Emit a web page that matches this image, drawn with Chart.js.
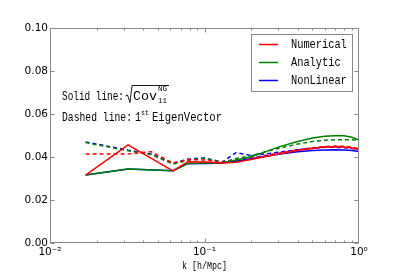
<!DOCTYPE html>
<html>
<head>
<meta charset="utf-8">
<script src="https://cdn.jsdelivr.net/npm/chart.js@4.4.0/dist/chart.umd.min.js"></script>
<style>
  html, body { margin: 0; background: #fff; }
  #wrap { width: 399px; height: 279px; }
</style>
</head>
<body>
<div id="wrap"><canvas id="chart" width="399" height="279"></canvas></div>
<script>
// k grids (h/Mpc)
const K_SOLID  = [0.017, 0.032, 0.0625, 0.078, 0.1, 0.13, 0.16, 0.2, 0.25, 0.3, 0.4, 0.5, 0.6, 0.7, 0.8, 0.9, 1.0]
const K_DASHED = [0.017, 0.032, 0.045, 0.0625, 0.078, 0.1, 0.13, 0.16, 0.2, 0.25, 0.3, 0.4, 0.5, 0.6, 0.7, 0.8, 0.9, 1.0]

// solid: sqrt(Cov_NG_11)
const NUM_SOLID = [0.0316, 0.0456, 0.0335, 0.0378, 0.0377, 0.0372, 0.0376, 0.0388, 0.0402, 0.0414, 0.0430, 0.0440, 0.0446, 0.0448, 0.0447, 0.0442, 0.0434]
const ANA_SOLID = [0.0316, 0.0344, 0.0336, 0.0370, 0.0372, 0.0373, 0.0386, 0.0401, 0.0425, 0.0446, 0.0472, 0.0488, 0.0496, 0.0499, 0.0499, 0.0492, 0.0479]
const NL_SOLID  = [0.0316, 0.0344, 0.0336, 0.0369, 0.0370, 0.0372, 0.0380, 0.0392, 0.0404, 0.0413, 0.0424, 0.0430, 0.0433, 0.0434, 0.0433, 0.0430, 0.0425]

// dashed: 1st eigenvector
const NUM_DASHED = [0.0414, 0.0414, 0.0425, 0.0372, 0.0388, 0.0386, 0.0375, 0.0385, 0.0395, 0.0408, 0.0418, 0.0433, 0.0443, 0.0449, 0.0451, 0.0450, 0.0446, 0.0438]
const ANA_DASHED = [0.0467, 0.0429, 0.0412, 0.0367, 0.0385, 0.0394, 0.0375, 0.0393, 0.0406, 0.0425, 0.0440, 0.0460, 0.0472, 0.0478, 0.0480, 0.0480, 0.0480, 0.0479]
const NL_DASHED  = [0.0470, 0.0432, 0.0414, 0.0370, 0.0390, 0.0396, 0.0376, 0.0420, 0.0407, 0.0415, 0.0422, 0.0434, 0.0441, 0.0445, 0.0445, 0.0443, 0.0440, 0.0435]

const Y_TICKS = [0, 0.02, 0.04, 0.06, 0.08, 0.10]
const X_MAJOR = [0.01, 0.1, 1]
const X_LABELS = ['10\u207B\u00B2', '10\u207B\u00B9', '10\u2070']
const LEGEND = ['Numerical', 'Analytic', 'NonLinear']
const COLORS = ['#ff0000', '#008000', '#0000ff']

const FRAME = '#888888'
const MONO = "'Liberation Mono', 'DejaVu Sans Mono', monospace"

function pts(ks, vs) {
  return ks.map((k, i) => ({ x: k, y: vs[i] }))
}

function lineSet(label, ks, vs, color, dashed) {
  return {
    label,
    data: pts(ks, vs),
    borderColor: color,
    backgroundColor: color,
    borderWidth: 1.5,
    borderDash: dashed ? [4, 3] : [],
    pointRadius: 0,
    tension: 0,
    fill: false
  }
}

// text squeezed/stretched to a given width
function fitText(ctx, str, x, y, font, width) {
  ctx.save()
  ctx.font = font
  const w = ctx.measureText(str).width
  ctx.translate(x, y)
  ctx.scale(width / w, 1)
  ctx.fillText(str, 0, 0)
  ctx.restore()
}

const decor = {
  id: 'decor',
  afterDatasetsDraw(chart) {
    const { ctx, chartArea: a, scales } = chart
    const L = Math.round(a.left) + 0.5, R = Math.round(a.right) - 0.5
    const T = Math.round(a.top) + 0.5, B = Math.round(a.bottom) - 0.5
    ctx.save()
    ctx.strokeStyle = FRAME
    ctx.lineWidth = 1
    ctx.setLineDash([])
    ctx.strokeRect(L, T, R - L, B - T)

    // inside ticks
    ctx.beginPath()
    Y_TICKS.forEach(v => {
      const y = Math.round(scales.y.getPixelForValue(v)) + 0.5
      ctx.moveTo(L, y); ctx.lineTo(L + 4, y)
      ctx.moveTo(R, y); ctx.lineTo(R - 4, y)
    })
    for (let d = 0.01; d < 1; d *= 10) {
      for (let m = 1; m <= 9; m++) {
        const x = Math.round(scales.x.getPixelForValue(d * m)) + 0.5
        const len = m === 1 ? 4 : 2
        ctx.moveTo(x, B); ctx.lineTo(x, B - len)
        ctx.moveTo(x, T); ctx.lineTo(x, T + len)
      }
    }
    ctx.stroke()

    // annotations
    ctx.fillStyle = '#000'
    ctx.textBaseline = 'alphabetic'
    ctx.textAlign = 'left'
    fitText(ctx, 'Solid line:', 62, 100, '12px ' + MONO, 62)
    ctx.strokeStyle = '#000'
    ctx.lineWidth = 0.9
    ctx.beginPath()
    ctx.moveTo(125.5, 96); ctx.lineTo(127.5, 95)
    ctx.lineTo(130, 102.5); ctx.lineTo(132, 85.5); ctx.lineTo(169, 85.5)
    ctx.stroke()
    fitText(ctx, 'Cov', 133, 100, '12px ' + MONO, 24)
    fitText(ctx, 'NG', 158, 91, '7px ' + MONO, 9)
    fitText(ctx, '11', 158, 103, '7px ' + MONO, 9)

    fitText(ctx, 'Dashed line:', 62, 121, '12px ' + MONO, 70)
    fitText(ctx, '1', 135, 121, '12px ' + MONO, 6)
    fitText(ctx, 'st', 141, 115, '7px ' + MONO, 8)
    fitText(ctx, 'EigenVector', 152, 121, '12px ' + MONO, 70)

    // legend
    ctx.fillStyle = '#fff'
    ctx.strokeStyle = FRAME
    ctx.lineWidth = 1
    ctx.fillRect(251.5, 34.5, 101, 57)
    ctx.strokeRect(251.5, 34.5, 101, 57)
    LEGEND.forEach((name, i) => {
      const y = 44.5 + i * 18
      ctx.strokeStyle = COLORS[i]
      ctx.lineWidth = 1.5
      ctx.beginPath(); ctx.moveTo(259, y); ctx.lineTo(278, y); ctx.stroke()
      ctx.fillStyle = '#000'
      ctx.textBaseline = 'middle'
      fitText(ctx, name, 291, y + 0.5, '12px ' + MONO, name.length * 6.2)
    })

    // x axis title
    ctx.textBaseline = 'middle'
    ctx.fillStyle = '#000'
    fitText(ctx, 'k [h/Mpc]', 182, 266, '11px ' + MONO, 45)
    ctx.restore()
  }
}

new Chart(document.getElementById('chart'), {
  type: 'line',
  data: {
    datasets: [
      lineSet('Numerical', K_SOLID, NUM_SOLID, COLORS[0], false),
      lineSet('Analytic', K_SOLID, ANA_SOLID, COLORS[1], false),
      lineSet('NonLinear', K_SOLID, NL_SOLID, COLORS[2], false),
      lineSet('Numerical eig', K_DASHED, NUM_DASHED, COLORS[0], true),
      lineSet('Analytic eig', K_DASHED, ANA_DASHED, COLORS[1], true),
      lineSet('NonLinear eig', K_DASHED, NL_DASHED, COLORS[2], true)
    ]
  },
  options: {
    responsive: false,
    animation: false,
    layout: { padding: { left: 0, right: 40, top: 28, bottom: 0 } },
    plugins: { legend: { display: false }, tooltip: { enabled: false } },
    scales: {
      x: {
        type: 'logarithmic',
        min: 0.01,
        max: 1,
        grid: { display: false, drawTicks: false },
        border: { display: false },
        afterFit: s => { s.height = 36 },
        ticks: {
          autoSkip: false,
          maxRotation: 0,
          padding: 3,
          color: '#000',
          font: { family: "'DejaVu Sans'", size: 10.5 },
          callback: v => {
            const i = X_MAJOR.findIndex(m => Math.abs(m - v) < 1e-9)
            return i >= 0 ? X_LABELS[i] : ''
          }
        }
      },
      y: {
        min: 0,
        max: 0.1,
        grid: { display: false, drawTicks: false },
        border: { display: false },
        afterFit: s => { s.width = 50 },
        ticks: {
          stepSize: 0.02,
          padding: 2,
          color: '#000',
          font: { family: "'DejaVu Sans'", size: 10.5 },
          callback: v => v.toFixed(2)
        }
      }
    }
  },
  plugins: [decor]
})
</script>
</body>
</html>
